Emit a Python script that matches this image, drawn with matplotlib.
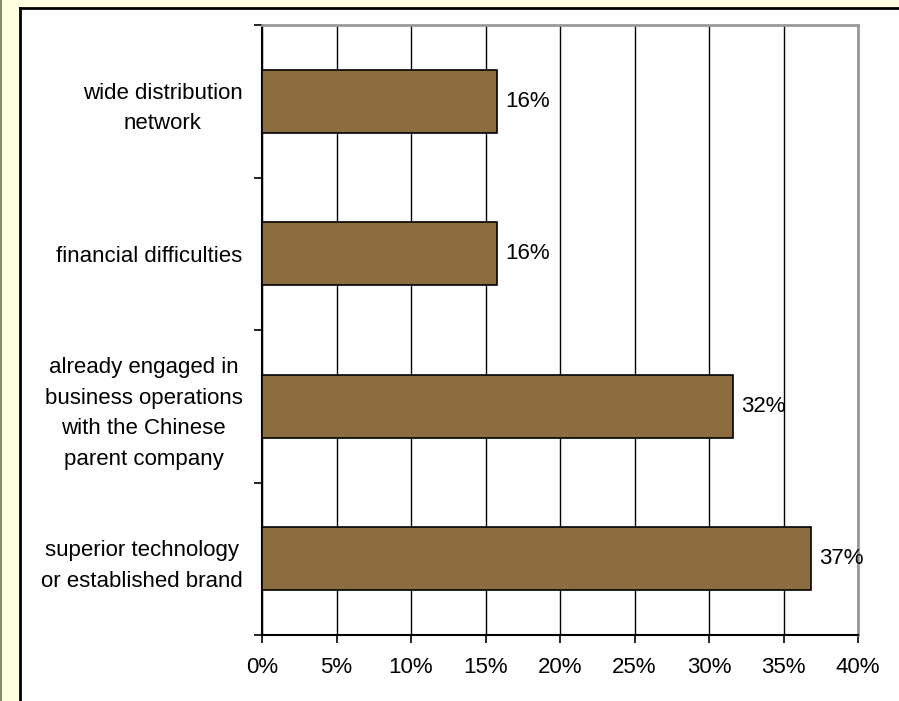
import matplotlib.pyplot as plt
from matplotlib.patches import Rectangle
from matplotlib.ticker import FixedLocator, FuncFormatter
from matplotlib.transforms import ScaledTranslation

plt.rcParams['font.family'] = ['Liberation Sans', 'DejaVu Sans']

# reasons, listed bottom to top (share of 19 respondents)
reasons = [
    "superior technology\nor established brand",
    "already engaged in\nbusiness operations\nwith the Chinese\nparent company",
    "financial difficulties",
    "wide distribution\nnetwork",
]
shares = [7 / 19 * 100, 6 / 19 * 100, 3 / 19 * 100, 3 / 19 * 100]
x_ticks = [0, 5, 10, 15, 20, 25, 30, 35, 40]

W, H = 899, 701
FS = 16
fig = plt.figure(figsize=(W / 100, H / 100), dpi=100, facecolor="#ffffe0")

# white chart panel with dark left/top edges
fig.add_artist(Rectangle((20 / W, 0), 1 - 20 / W, 1 - 8 / H, transform=fig.transFigure,
                         facecolor="white", edgecolor="none", zorder=0))
fig.add_artist(plt.Line2D([20 / W, 20 / W], [0, 1 - 8 / H], transform=fig.transFigure,
                          color="black", lw=2))
fig.add_artist(plt.Line2D([20 / W, 1], [1 - 8 / H, 1 - 8 / H], transform=fig.transFigure,
                          color="black", lw=2))
fig.add_artist(plt.Line2D([0.5 / W, 0.5 / W], [0, 1], transform=fig.transFigure,
                          color="#8a8a70", lw=1.5))

ax = fig.add_axes([262 / W, 1 - 635 / H, (858 - 262) / W, (635 - 25) / H])
ax.set_facecolor("white")

pos = list(range(len(reasons)))
ax.barh(pos, shares, height=0.41, color="#8c6d3f", edgecolor="black", linewidth=1.2, zorder=3)

for y, v in zip(pos, shares):
    ax.text(v + 0.55, y, f"{v:.0f}%", va="center", ha="left", fontsize=FS, zorder=4)

ax.set_xlim(0, 40)
ax.set_ylim(-0.5, len(reasons) - 0.5)
ax.set_xticks(x_ticks)
ax.xaxis.set_major_formatter(FuncFormatter(lambda v, _: f"{v:.0f}%"))
ax.grid(axis="x", color="black", lw=1, zorder=1)

ax.set_yticks(pos)
ax.set_yticklabels(reasons, ha="right", multialignment="center", linespacing=1.6)
# nudge category labels up a little
shift = ScaledTranslation(0, 0.05, fig.dpi_scale_trans)
for lbl in ax.get_yticklabels():
    lbl.set_transform(lbl.get_transform() + shift)
ax.yaxis.set_minor_locator(FixedLocator([p - 0.5 for p in pos] + [pos[-1] + 0.5]))
ax.tick_params(axis="y", which="major", length=0, pad=14, labelsize=FS)
ax.tick_params(axis="y", which="minor", length=6, width=1.2, direction="out")
ax.tick_params(axis="x", length=6, width=1.2, direction="out", pad=10, labelsize=FS)

for side in ("left", "bottom"):
    ax.spines[side].set_color("black")
    ax.spines[side].set_linewidth(1.5)
for side in ("top", "right"):
    ax.spines[side].set_color("#999999")
    ax.spines[side].set_linewidth(2)

fig.savefig("out.png", dpi=100, facecolor=fig.get_facecolor())
